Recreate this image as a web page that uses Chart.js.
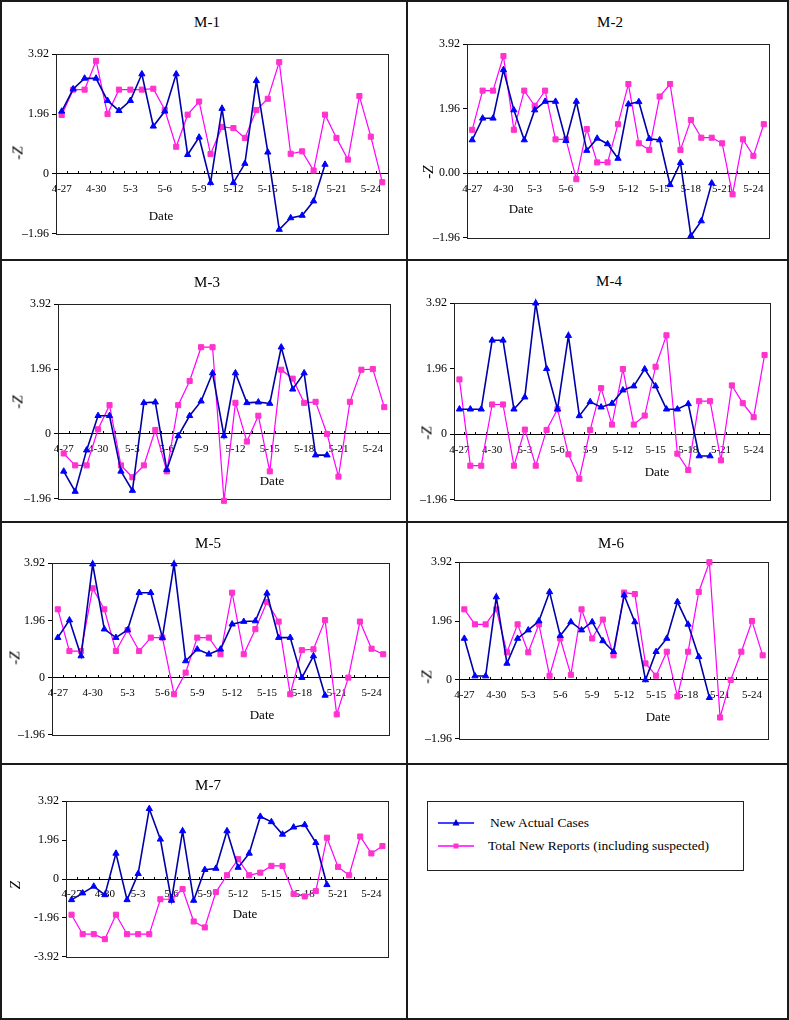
<!DOCTYPE html>
<html>
<head>
<meta charset="utf-8">
<script src="https://cdn.jsdelivr.net/npm/chart.js@4.4.0/dist/chart.umd.min.js"></script>
<style>
  html, body { margin: 0; padding: 0; background: #fff; }
  #page { position: relative; width: 789px; height: 1020px; overflow: hidden;
          font-family: 'Liberation Serif', 'Times New Roman', serif; color: #000; }
  .rule { position: absolute; background: #1a1a1a; }
  .lbl { position: absolute; white-space: nowrap; text-align: center; }
  canvas { position: absolute; }
  #legend { position: absolute; left: 427px; top: 801px; width: 317px; height: 70px;
            border: 1px solid #222; box-sizing: border-box; }
  #legend span { position: absolute; font-size: 13.5px; line-height: 18px; }
  #legend svg { position: absolute; left: 0; top: 0; }
</style>
</head>
<body>
<div id="page">
  <div id="legend">
    <svg width="60" height="68">
      <line x1="10" y1="21" x2="46" y2="21" stroke="#0000ff" stroke-width="1.5"/>
      <polygon points="28,17 31.5,23.5 24.5,23.5" fill="#0000c8"/>
      <line x1="10" y1="44" x2="46" y2="44" stroke="#ff00ff" stroke-width="1.5"/>
      <rect x="25.5" y="41.5" width="5" height="5" fill="#ff33cc"/>
    </svg>
    <span id="leg0" style="left:62px;top:12px"></span>
    <span id="leg1" style="left:60px;top:35px"></span>
  </div>
</div>
<script>
const FONT = "'Liberation Serif', 'Times New Roman', serif";

const dates = ['4-27','4-28','4-29','4-30','5-1','5-2','5-3','5-4','5-5','5-6',
               '5-7','5-8','5-9','5-10','5-11','5-12','5-13','5-14','5-15','5-16',
               '5-17','5-18','5-19','5-20','5-21','5-22','5-23','5-24','5-25'];
const xTickLabels = ['4-27','4-30','5-3','5-6','5-9','5-12','5-15','5-18','5-21','5-24'];
const seriesNames = ['New Actual Cases', 'Total New Reports (including suspected)'];

const zTicks = [-1.96, 0, 1.96, 3.92];
const zTickLabels = ['\u20131.96', '0', '1.96', '3.92'];
const zTickLabelsM2 = ['\u20131.96', '0.00', '1.96', '3.92'];
const zTicksM7 = [-3.92, -1.96, 0, 1.96, 3.92];
const zTickLabelsM7 = ['-3.92', '-1.96', '0', '1.96', '3.92'];

// new actual cases: 4-27 .. 5-20, total new reports: 4-27 .. 5-25
const m1Actual  = [2.05, 2.78, 3.13, 3.13, 2.40, 2.07, 2.40, 3.27, 1.56, 2.05, 3.27, 0.63, 1.20, -0.29, 2.14, -0.29, 0.34, 3.05, 0.71, -1.82, -1.44, -1.36, -0.89, 0.31];
const m1Reports = [1.93, 2.76, 2.76, 3.70, 1.96, 2.76, 2.76, 2.76, 2.79, 2.10, 0.89, 1.94, 2.37, 0.65, 1.54, 1.50, 1.18, 2.09, 2.46, 3.66, 0.66, 0.74, 0.11, 1.94, 1.18, 0.47, 2.55, 1.22, -0.27];

const m2Actual  = [1.01, 1.67, 1.67, 3.14, 1.92, 1.01, 1.92, 2.18, 2.18, 0.99, 2.18, 0.69, 1.06, 0.89, 0.45, 2.10, 2.17, 1.05, 1.01, -0.35, 0.32, -1.90, -1.45, -0.30];
const m2Reports = [1.32, 2.51, 2.51, 3.56, 1.32, 2.51, 2.05, 2.51, 1.03, 1.03, -0.18, 1.34, 0.33, 0.33, 1.49, 2.71, 0.91, 0.71, 2.33, 2.71, 0.71, 1.62, 1.08, 1.08, 0.91, -0.64, 1.03, 0.53, 1.49];

const m3Actual  = [-1.13, -1.74, -0.49, 0.55, 0.55, -1.13, -1.71, 0.94, 0.96, -1.08, -0.06, 0.55, 0.99, 1.84, -0.06, 1.84, 0.94, 0.96, 0.92, 2.62, 1.35, 1.84, -0.64, -0.64];
const m3Reports = [-0.59, -0.95, -0.95, 0.14, 0.87, -0.95, -1.31, -0.95, 0.12, -1.13, 0.87, 1.60, 2.62, 2.62, -2.02, 0.94, -0.23, 0.55, -1.13, 1.94, 1.67, 0.94, 0.97, 0.00, -1.29, 0.97, 1.94, 1.96, 0.81];

const m4Actual  = [0.75, 0.75, 0.75, 2.81, 2.81, 0.75, 1.11, 3.92, 1.96, 0.75, 2.95, 0.55, 0.97, 0.81, 0.92, 1.32, 1.44, 1.95, 1.44, 0.75, 0.75, 0.91, -0.65, -0.65];
const m4Reports = [1.64, -0.94, -0.94, 0.89, 0.89, -0.94, 0.14, -0.94, 0.13, 0.75, -0.60, -1.33, 0.13, 1.38, 0.29, 1.95, 0.29, 0.56, 2.02, 2.96, -0.58, -1.07, 0.99, 0.99, -0.78, 1.46, 0.93, 0.51, 2.37];

const m5Actual  = [1.37, 1.97, 0.74, 3.89, 1.66, 1.37, 1.63, 2.91, 2.91, 1.37, 3.89, 0.57, 0.97, 0.80, 0.97, 1.83, 1.92, 1.94, 2.89, 1.37, 1.37, 0.00, 0.74, -0.61];
const m5Reports = [2.34, 0.91, 0.91, 3.06, 2.34, 0.91, 1.63, 0.91, 1.37, 1.37, -0.57, 0.17, 1.37, 1.37, 0.80, 2.91, 0.80, 1.66, 2.59, 1.92, -0.57, 0.94, 0.97, 1.97, -1.26, 0.00, 1.92, 0.99, 0.80];

const m6Actual  = [1.38, 0.13, 0.13, 2.76, 0.55, 1.38, 1.66, 1.96, 2.93, 1.47, 1.93, 1.66, 1.93, 1.30, 0.94, 2.82, 1.93, 0.00, 0.94, 1.38, 2.60, 1.85, 0.77, -0.59];
const m6Reports = [2.35, 1.85, 1.85, 2.35, 0.92, 1.85, 0.92, 1.85, 0.14, 1.38, 0.17, 2.35, 1.38, 2.01, 0.82, 2.91, 2.86, 0.55, 0.14, 0.94, -0.55, 0.94, 2.93, 3.92, -1.25, 0.00, 0.94, 1.96, 0.82];

const m7Actual  = [-1.05, -0.71, -0.37, -0.80, 1.29, -1.05, 0.27, 3.54, 2.00, -1.08, 2.42, -1.08, 0.47, 0.53, 2.42, 0.58, 1.29, 3.15, 2.88, 2.25, 2.61, 2.73, 1.83, -0.29];
const m7Reports = [-1.80, -2.78, -2.78, -3.03, -1.80, -2.78, -2.78, -2.78, -1.02, -1.02, -0.51, -2.14, -2.44, -0.66, 0.19, 1.00, 0.19, 0.32, 0.66, 0.66, -0.75, -0.88, -0.61, 2.08, 0.61, 0.19, 2.14, 1.29, 1.66];

const panels = [
  { title: 'M-1', yTitle: '-', actual: m1Actual, reports: m1Reports, ticks: zTicks, tickLabels: zTickLabels },
  { title: 'M-2', yTitle: '-', actual: m2Actual, reports: m2Reports, ticks: zTicks, tickLabels: zTickLabelsM2 },
  { title: 'M-3', yTitle: '-', actual: m3Actual, reports: m3Reports, ticks: zTicks, tickLabels: zTickLabels },
  { title: 'M-4', yTitle: '-', actual: m4Actual, reports: m4Reports, ticks: zTicks, tickLabels: zTickLabels },
  { title: 'M-5', yTitle: '-', actual: m5Actual, reports: m5Reports, ticks: zTicks, tickLabels: zTickLabels },
  { title: 'M-6', yTitle: '-', actual: m6Actual, reports: m6Reports, ticks: zTicks, tickLabels: zTickLabels },
  { title: 'M-7', yTitle: '',  actual: m7Actual, reports: m7Reports, ticks: zTicksM7, tickLabels: zTickLabelsM7 }
];

// page pixels: plot box [left, top, right, bottom], centres of title, y title and "Date"
const layout = [
  { box: [56, 54, 388, 234],  title: [207, 22],  ylab: [18, 153],  date: [161, 215] },
  { box: [467, 44, 769, 238], title: [610, 22],  ylab: [428, 172], date: [521, 208] },
  { box: [58, 304, 390, 499], title: [207, 282], ylab: [18, 402],  date: [272, 480] },
  { box: [454, 303, 770, 500], title: [609, 281], ylab: [427, 433], date: [657, 471] },
  { box: [52, 563, 389, 735], title: [208, 543], ylab: [15, 658],  date: [262, 714] },
  { box: [459, 562, 768, 739], title: [611, 543], ylab: [427, 677], date: [658, 716] },
  { box: [66, 801, 388, 957], title: [208, 785], ylab: [15, 885],  date: [245, 913] }
];

const page = document.getElementById('page');

// table rules
[[0, 0, 789, 2], [0, 259, 789, 2], [0, 521, 789, 2], [0, 763, 789, 2], [0, 1018, 789, 2],
 [0, 0, 2, 1020], [406, 0, 2, 1020], [787, 0, 2, 1020]].forEach(([x, y, w, h]) => {
  const d = document.createElement('div');
  d.className = 'rule';
  d.style.cssText = `left:${x}px;top:${y}px;width:${w}px;height:${h}px`;
  page.appendChild(d);
});

document.getElementById('leg0').textContent = seriesNames[0];
document.getElementById('leg1').textContent = seriesNames[1];

function addLabel(html, [cx, cy], size, rotate) {
  const d = document.createElement('div');
  d.className = 'lbl';
  d.innerHTML = html;
  d.style.cssText += `left:${cx}px;top:${cy}px;font-size:${size}px;line-height:${size + 2}px;` +
    `transform:translate(-50%,-50%)${rotate ? ' rotate(-90deg)' : ''}`;
  page.appendChild(d);
}

const plotBox = {
  id: 'plotBox',
  beforeDatasetsDraw(chart) {
    const { ctx, chartArea: a } = chart;
    ctx.save();
    ctx.strokeStyle = '#222';
    ctx.lineWidth = 1;
    ctx.strokeRect(Math.round(a.left) + 0.5, Math.round(a.top) + 0.5,
                   Math.round(a.right - a.left), Math.round(a.bottom - a.top));
    ctx.restore();
  }
};

function drawPanel(p, L) {
  const [l, t, r, b] = L.box;
  const padL = 46, pad = 10;
  const cv = document.createElement('canvas');
  cv.width = r - l + padL + pad;
  cv.height = b - t + 2 * pad;
  cv.style.left = (l - padL) + 'px';
  cv.style.top = (t - pad) + 'px';
  cv.style.width = cv.width + 'px';
  cv.style.height = cv.height + 'px';
  page.appendChild(cv);

  new Chart(cv, {
    type: 'line',
    data: {
      labels: dates,
      datasets: [
        { label: seriesNames[0], data: p.actual, borderColor: '#0000a8', borderWidth: 1.6,
          pointStyle: 'triangle', pointRadius: 3.6, pointBackgroundColor: '#0000ff',
          pointBorderColor: '#0000ff', pointBorderWidth: 1, clip: false },
        { label: seriesNames[1], data: p.reports, borderColor: '#ff00ff', borderWidth: 1.2,
          pointStyle: 'rect', pointRadius: 3.6, pointBackgroundColor: '#ff33cc',
          pointBorderColor: '#ff33cc', pointBorderWidth: 1, clip: false }
      ]
    },
    options: {
      responsive: false,
      animation: false,
      events: [],
      layout: { padding: { left: 0, top: pad, right: pad, bottom: pad } },
      plugins: { legend: { display: false }, tooltip: { enabled: false } },
      scales: {
        x: {
          position: { y: 0 },
          offset: true,
          grid: { offset: true, drawOnChartArea: false, tickLength: -3, color: '#000' },
          border: { color: '#000', width: 1 },
          ticks: {
            autoSkip: false, maxRotation: 0, minRotation: 0, padding: 12, color: '#000',
            font: { family: FONT, size: 11 },
            callback: (v, i) => xTickLabels.includes(dates[i]) ? dates[i] : ''
          }
        },
        y: {
          min: p.ticks[0],
          max: p.ticks[p.ticks.length - 1],
          afterBuildTicks: s => { s.ticks = p.ticks.map(v => ({ value: v })); },
          afterFit: s => { s.width = padL; },
          grid: { drawOnChartArea: false, tickLength: 4, color: '#000' },
          border: { display: false },
          ticks: {
            padding: 3, color: '#000', font: { family: FONT, size: 12 },
            callback: (v, i) => p.tickLabels[i]
          }
        }
      }
    },
    plugins: [plotBox]
  });

  addLabel(p.title, L.title, 15, false);
  addLabel(p.yTitle + '<i>Z</i>', L.ylab, 15, true);
  addLabel('Date', L.date, 13, false);
}

panels.forEach((p, i) => drawPanel(p, layout[i]));
</script>
</body>
</html>
